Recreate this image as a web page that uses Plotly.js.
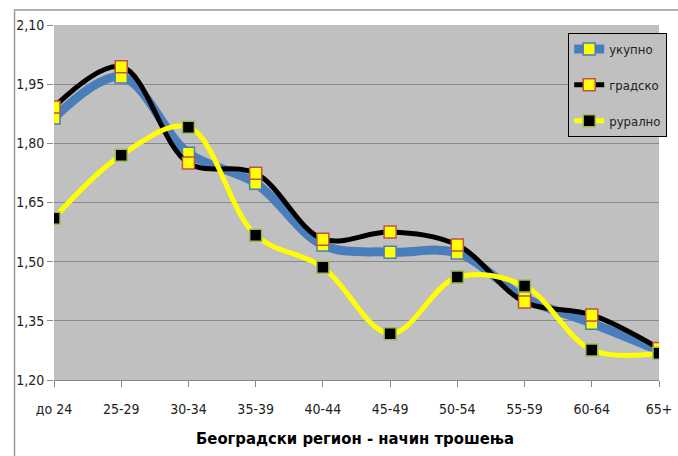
<!DOCTYPE html>
<html>
<head>
<meta charset="utf-8">
<script src="https://cdn.plot.ly/plotly-3.0.1.min.js"></script>
<style>html,body{margin:0;padding:0;background:#fff;}#chart{width:678px;height:456px;}</style>
</head>
<body>
<div id="chart"></div>
<script>
const categories = ["до 24", "25-29", "30-34", "35-39", "40-44", "45-49", "50-54", "55-59", "60-64", "65+"];
const ukupno  = [1.864, 1.968, 1.775, 1.699, 1.542, 1.524, 1.522, 1.408, 1.344, 1.275];
const gradsko = [1.892, 1.994, 1.750, 1.724, 1.557, 1.575, 1.542, 1.398, 1.365, 1.280];
const ruralno = [1.610, 1.770, 1.841, 1.567, 1.486, 1.317, 1.461, 1.438, 1.276, 1.268];
const seriesNames = ["укупно", "градско", "рурално"];
const chartTitle = "Београдски регион - начин трошења";
const yTicks = [1.20, 1.35, 1.50, 1.65, 1.80, 1.95, 2.10];

const FONT = "'Liberation Sans Narrow', 'DejaVu Sans Condensed', sans-serif";

const traces = [
  {x: categories, y: ukupno, name: seriesNames[0], legendgroup: "a", mode: "lines+markers",
   line: {color: "#4a7ebb", width: 9, shape: "spline", smoothing: 1},
   marker: {symbol: "square", size: 12, color: "#ffff00", line: {color: "#4a7ebb", width: 1.5}}},
  {x: categories, y: gradsko, name: seriesNames[1], legendgroup: "b", mode: "lines+markers",
   line: {color: "#000000", width: 5, shape: "spline", smoothing: 1},
   marker: {symbol: "square", size: 12, color: "#ffff00", line: {color: "#c0504d", width: 1.5}}},
  {x: categories, y: ruralno, name: seriesNames[2], legendgroup: "c", mode: "lines+markers",
   line: {color: "#ffff00", width: 5, shape: "spline", smoothing: 1},
   marker: {symbol: "square", size: 12, color: "#000000", line: {color: "#9bbb59", width: 1.5}}}
];

const layout = {
  width: 678, height: 456,
  margin: {l: 54, r: 11, t: 25, b: 76},
  paper_bgcolor: "#ffffff",
  plot_bgcolor: "#c0c0c0",
  separators: ", ",
  font: {family: FONT, size: 13, color: "#222"},
  title: {text: "<b>" + chartTitle + "</b>", font: {family: FONT, size: 16.5, color: "#000"},
          x: 355/678, xanchor: "center", y: 1 - 438/456, yanchor: "middle", xref: "container", yref: "container"},
  xaxis: {type: "category", range: [0, 9], showgrid: false, zeroline: false,
          showline: true, linecolor: "#888", linewidth: 1,
          ticks: "outside", ticklen: 6, tickcolor: "#888", ticklabelstandoff: 10,
          tickfont: {family: FONT, size: 14, color: "#222"}, fixedrange: true},
  yaxis: {range: [1.20, 2.10], tickvals: yTicks, tickformat: ".2f",
          showgrid: true, gridcolor: "#8a8a8a", gridwidth: 1, zeroline: false,
          showline: false, ticks: "outside", ticklen: 6, tickcolor: "#888",
          tickfont: {family: FONT, size: 14, color: "#222"}, fixedrange: true},
  legend: {x: (575-54)/613, y: (380-33)/355, xanchor: "left", yanchor: "top",
           bgcolor: "#c0c0c0", bordercolor: "#000", borderwidth: 1,
           traceorder: "grouped", tracegroupgap: 16, itemwidth: 30,
           font: {family: FONT, size: 13, color: "#222"}},
  shapes: [{type: "rect", xref: "paper", yref: "paper",
            x0: (14-54)/613, x1: (690-54)/613, y0: (380-470)/355, y1: (380-10)/355,
            line: {color: "#999", width: 1.5}, fillcolor: "rgba(0,0,0,0)", layer: "below"}],
  showlegend: true
};

Plotly.newPlot("chart", traces, layout, {displayModeBar: false, staticPlot: true});
</script>
</body>
</html>
